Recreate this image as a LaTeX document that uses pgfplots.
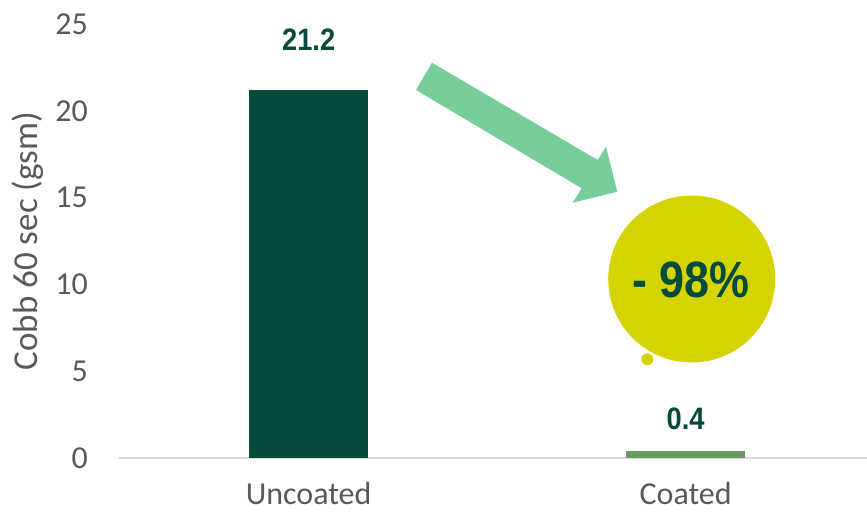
\documentclass[border=0pt]{standalone}
\usepackage{fontspec}
\setmainfont{Carlito}
\newfontfamily\nb{Liberation Sans}[FakeStretch=0.88]
\usepackage{pgfplots}
\pgfplotsset{compat=1.18}
\definecolor{dkgreen}{HTML}{054B3C}
\definecolor{ltgreen}{HTML}{6A9A64}
\definecolor{arrowgreen}{HTML}{78CE9A}
\definecolor{circyellow}{HTML}{D6D400}
\definecolor{tickgray}{HTML}{595959}
\definecolor{axisgray}{HTML}{D9D9D9}
\begin{document}
\begin{tikzpicture}
\useasboundingbox (-119pt,-54pt) rectangle (748pt,458pt);
\begin{axis}[
  at={(0pt,0pt)}, anchor=south west,
  width=748pt, height=434pt, scale only axis,
  xmin=-0.503, xmax=1.481, ymin=0, ymax=25,
  xtick={0,1}, xticklabels={Uncoated,Coated},
  ytick={0,5,10,15,20,25},
  /pgf/number format/assume math mode=true,
  axis x line*=bottom, axis y line*=left,
  x axis line style={draw=axisgray, line width=2pt, -},
  y axis line style={draw=none},
  tick style={draw=none},
  yticklabel style={font=\fontsize{32}{36}\selectfont, text=tickgray, anchor=east, inner sep=0pt, xshift=-31pt},
  xticklabel style={font=\fontsize{32}{36}\selectfont, text=tickgray, anchor=north, inner sep=0pt, yshift=-24pt},
  ylabel={Cobb 60 sec (gsm)},
  every axis y label/.style={at={(rel axis cs:0,0.5)}, rotate=90, anchor=center, yshift=91pt, font=\fontsize{35}{38}\selectfont, text=tickgray},
  clip=false,
]
\addplot[ybar, bar shift=0pt, bar width=0.316, fill=dkgreen, draw=none] coordinates {(0,21.2)};
\addplot[ybar, bar shift=0pt, bar width=0.316, fill=ltgreen, draw=none] coordinates {(1,0.4)};
\node[anchor=south, inner sep=0pt, yshift=39pt, text=dkgreen, font=\nb\bfseries\fontsize{31}{34}\selectfont] at (axis cs:0,21.2) {21.2};
\node[anchor=south, inner sep=0pt, yshift=21pt, text=dkgreen, font=\nb\bfseries\fontsize{31}{34}\selectfont] at (axis cs:1,0.4) {0.4};
\end{axis}
\fill[arrowgreen] (313pt,395.3pt) -- (478.7pt,298pt) -- (487pt,311.3pt) -- (498.3pt,266.3pt) -- (453.7pt,255.3pt) -- (462.7pt,269.7pt) -- (297pt,368pt) -- cycle;
\fill[circyellow] (572.7pt,179pt) circle (83.5pt);
\fill[circyellow] (528.3pt,98.7pt) circle (6pt);
\node[text=dkgreen, font=\nb\bfseries\fontsize{51}{54}\selectfont, inner sep=0pt] at (571.7pt,178pt) {- 98\%};
\end{tikzpicture}
\end{document}
